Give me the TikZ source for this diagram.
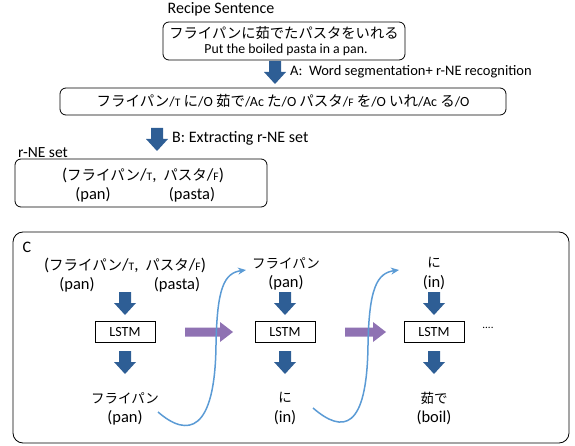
\documentclass[tikz,border=0pt]{standalone}
\usepackage{fontspec}
\setmainfont{Carlito}
\newfontfamily\jpfont{Noto Sans CJK JP}
\usetikzlibrary{arrows.meta}
\newcommand{\JPs}[1]{{\fontsize{14.5}{16}\jpfont #1}}
\newcommand{\JPm}[1]{{\fontsize{14.5}{16}\jpfont #1}}
\newcommand{\tg}[1]{/{\fontsize{11.5}{14}\selectfont #1}}
\definecolor{arrblue}{HTML}{2E5E95}
\definecolor{arrpurple}{HTML}{8F72B3}
\definecolor{curveblue}{HTML}{5B9BD5}
\begin{document}
\begin{tikzpicture}[x=1pt,y=-1pt,
  rbox/.style={draw, rounded corners=6pt, line width=0.8pt, inner sep=0pt},
  lstm/.style={draw, line width=0.8pt, minimum width=60pt, minimum height=21pt, inner sep=0pt, font=\fontsize{14}{16}\selectfont},
  txt/.style={inner sep=0pt, font=\fontsize{16.5}{18}\selectfont},
  jtxt/.style={inner sep=0pt, font=\fontsize{13.5}{15}\jpfont},
  curve/.style={draw=curveblue, line width=1.5pt, -{Stealth[length=8pt,width=7pt]}},
  pics/downarr/.style={code={\fill[arrblue] (-6,0) -- (6,0) -- (6,11) -- (11,11) -- (0,23) -- (-11,11) -- (-6,11) -- cycle;}},
  pics/rightarr/.style={code={\fill[arrpurple] (0,-4.5) -- ({#1-13},-4.5) -- ({#1-13},-10) -- (#1,0) -- ({#1-13},10) -- ({#1-13},4.5) -- (0,4.5) -- cycle;}}
]
\useasboundingbox (0,0) rectangle (575,446);

% Recipe sentence
\node[txt, font=\fontsize{16}{18}\selectfont] (rs) at (221,9) {Recipe Sentence};
\node[rbox, minimum width=242pt, minimum height=38pt] (box1) at (284,41) {};
\node[jtxt, font=\fontsize{14.3}{16}\jpfont] (s1) at (284,33) {フライパンに茹でたパスタをいれる};
\node[txt, font=\fontsize{13.8}{16}\selectfont] (s2) at (286,50) {Put the boiled pasta in a pan.};

% step A
\pic at (275,61) {downarr};
\node[txt, font=\fontsize{14.5}{16}\selectfont, anchor=west] (la) at (290,72) {A:\ \ Word segmentation+ r-NE recognition};
\node[rbox, minimum width=446pt, minimum height=27pt, font=\fontsize{14}{16}\selectfont] (box2) at (283,101.5)
  {\JPs{フライパン}\tg{T} \JPs{に}/O \JPs{茹で}/Ac \JPs{た}/O \JPs{パスタ}\tg{F} \JPs{を}/O \JPs{いれ}/Ac \JPs{る}/O};

% step B
\pic at (157,128) {downarr};
\node[txt, font=\fontsize{16}{18}\selectfont, anchor=west] (lb) at (172,138) {B: Extracting r-NE set};
\node[txt, font=\fontsize{15.5}{17}\selectfont] (rne) at (43,153) {r-NE set};
\node[rbox, minimum width=252pt, minimum height=48pt] (box3) at (141,183) {};
\node[txt, font=\fontsize{17}{18}\selectfont] (set1) at (143,175) {(\JPm{フライパン}\tg{T},\hspace{3pt} \JPm{パスタ}\tg{F})};
\node[txt] (pan0) at (93,195) {(pan)};
\node[txt] (pasta0) at (192,195) {(pasta)};

% part C
\node[rbox, rounded corners=10pt, minimum width=556pt, minimum height=211pt] (boxc) at (291,337.5) {};
\node[txt, font=\fontsize{16}{18}\selectfont] (c) at (27,247) {C};

% column 1
\node[txt, font=\fontsize{17}{18}\selectfont] (in1) at (125,265) {(\JPm{フライパン}\tg{T},\hspace{3pt} \JPm{パスタ}\tg{F})};
\node[txt] (in1a) at (77,285) {(pan)};
\node[txt] (in1b) at (177,285) {(pasta)};
\pic at (125,292) {downarr};
\node[lstm] (l1) at (125,332) {LSTM};
\pic at (125,351) {downarr};
\node[jtxt] (o1) at (125,398) {フライパン};
\node[txt] (o1e) at (125,418) {(pan)};

% column 2
\node[jtxt] (in2) at (286,263) {フライパン};
\node[txt] (in2e) at (286,283) {(pan)};
\pic at (285,292) {downarr};
\node[lstm] (l2) at (285,332) {LSTM};
\pic at (285,351) {downarr};
\node[jtxt] (o2) at (285,398) {に};
\node[txt] (o2e) at (285,418) {(in)};

% column 3
\node[jtxt] (in3) at (434,263) {に};
\node[txt] (in3e) at (434,283) {(in)};
\pic at (434,292) {downarr};
\node[lstm] (l3) at (434,332) {LSTM};
\pic at (434,351) {downarr};
\node[jtxt] (o3) at (434,398) {茹で};
\node[txt] (o3e) at (434,418) {(boil)};
\node[txt, font=\fontsize{11}{12}\selectfont] (dots) at (488,328) {....};

% recurrent arrows
\pic at (185,332) {rightarr=48};
\pic at (345,332) {rightarr=41};

% feedback curves
\coordinate (c1s) at (158,412);
\coordinate (c1e) at (246,270);
\coordinate (c2s) at (313,408);
\coordinate (c2e) at (399,270);
\draw[curve] (c1s) .. controls (188,438) and (215,432) .. (216,345) .. controls (217,288) and (224,273) .. (c1e);
\draw[curve] (c2s) .. controls (343,434) and (367,430) .. (368,345) .. controls (369,288) and (377,273) .. (c2e);
\end{tikzpicture}
\end{document}
